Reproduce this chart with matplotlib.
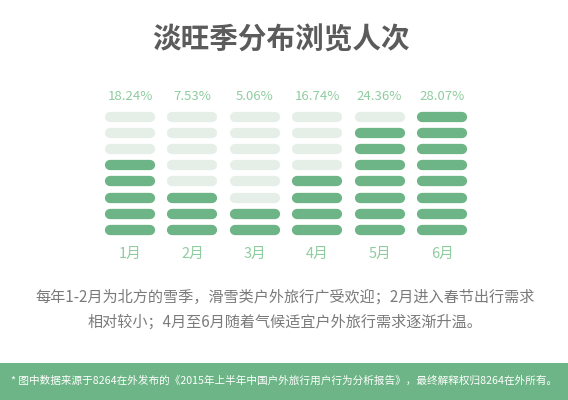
#!/usr/bin/env python3
"""
Season distribution of page views, drawn as stacked rounded pills per month.
"""

import matplotlib
matplotlib.use('Agg')
import matplotlib.pyplot as plt
from matplotlib.patches import Rectangle

plt.rcParams['font.family'] = ['Noto Sans CJK SC', 'DejaVu Sans']

# data
months = ['1月', '2月', '3月', '4月', '5月', '6月']
shares = [18.24, 7.53, 5.06, 16.74, 24.36, 28.07]
filled_rows = [5, 3, 2, 4, 7, 8]
total_rows = 8

title = '淡旺季分布浏览人次'
note_lines = ['每年1-2月为北方的雪季，滑雪类户外旅行广受欢迎；2月进入春节出行需求',
              '相对较小；4月至6月随着气候适宜户外旅行需求逐渐升温。']
footer = '* 图中数据来源于8264在外发布的《2015年上半年中国户外旅行用户行为分析报告》，最终解释权归8264在外所有。'

DARK = '#6db586'
LIGHT = '#e6efe7'
LABEL = '#8fcc9f'

# layout in pixels of a 568x400 canvas
X0, DX = 130, 62.4
Y_BOTTOM, DY = 230, 16.2
HALF_LEN = 20  # pill length without the round caps


def main():
    fig = plt.figure(figsize=(5.68, 4.0), dpi=100)
    ax = fig.add_axes([0, 0, 1, 1])
    ax.set_xlim(0, 568)
    ax.set_ylim(400, 0)
    ax.axis('off')

    ax.text(281, 40, title, ha='center', va='center', fontsize=20.6,
            fontweight='bold', color='#5b5b5b')

    for i, (m, s, n) in enumerate(zip(months, shares, filled_rows)):
        cx = X0 + i * DX
        for r in range(total_rows):
            y = Y_BOTTOM - r * DY
            col = DARK if r < n else LIGHT
            ax.plot([cx - HALF_LEN, cx + HALF_LEN], [y, y], color=col,
                    linewidth=7.4, solid_capstyle='round')
        ax.text(cx, 96, f'{s:.2f}%', ha='center', va='center', fontsize=9.5,
                color=LABEL)
        ax.text(cx, 254, m, ha='center', va='center', fontsize=10.5,
                color=LABEL)

    ax.text(285, 297, note_lines[0], ha='center', va='center', fontsize=10.9,
            color='#7a7a7a')
    ax.text(285, 322, note_lines[1], ha='center', va='center', fontsize=10.9,
            color='#7a7a7a')

    ax.add_patch(Rectangle((0, 363), 568, 37, facecolor=DARK, edgecolor='none'))
    ax.text(284, 381, footer, ha='center', va='center', fontsize=7.65, color='white')

    fig.savefig('out.png', dpi=100)
    plt.close(fig)


if __name__ == '__main__':
    main()
